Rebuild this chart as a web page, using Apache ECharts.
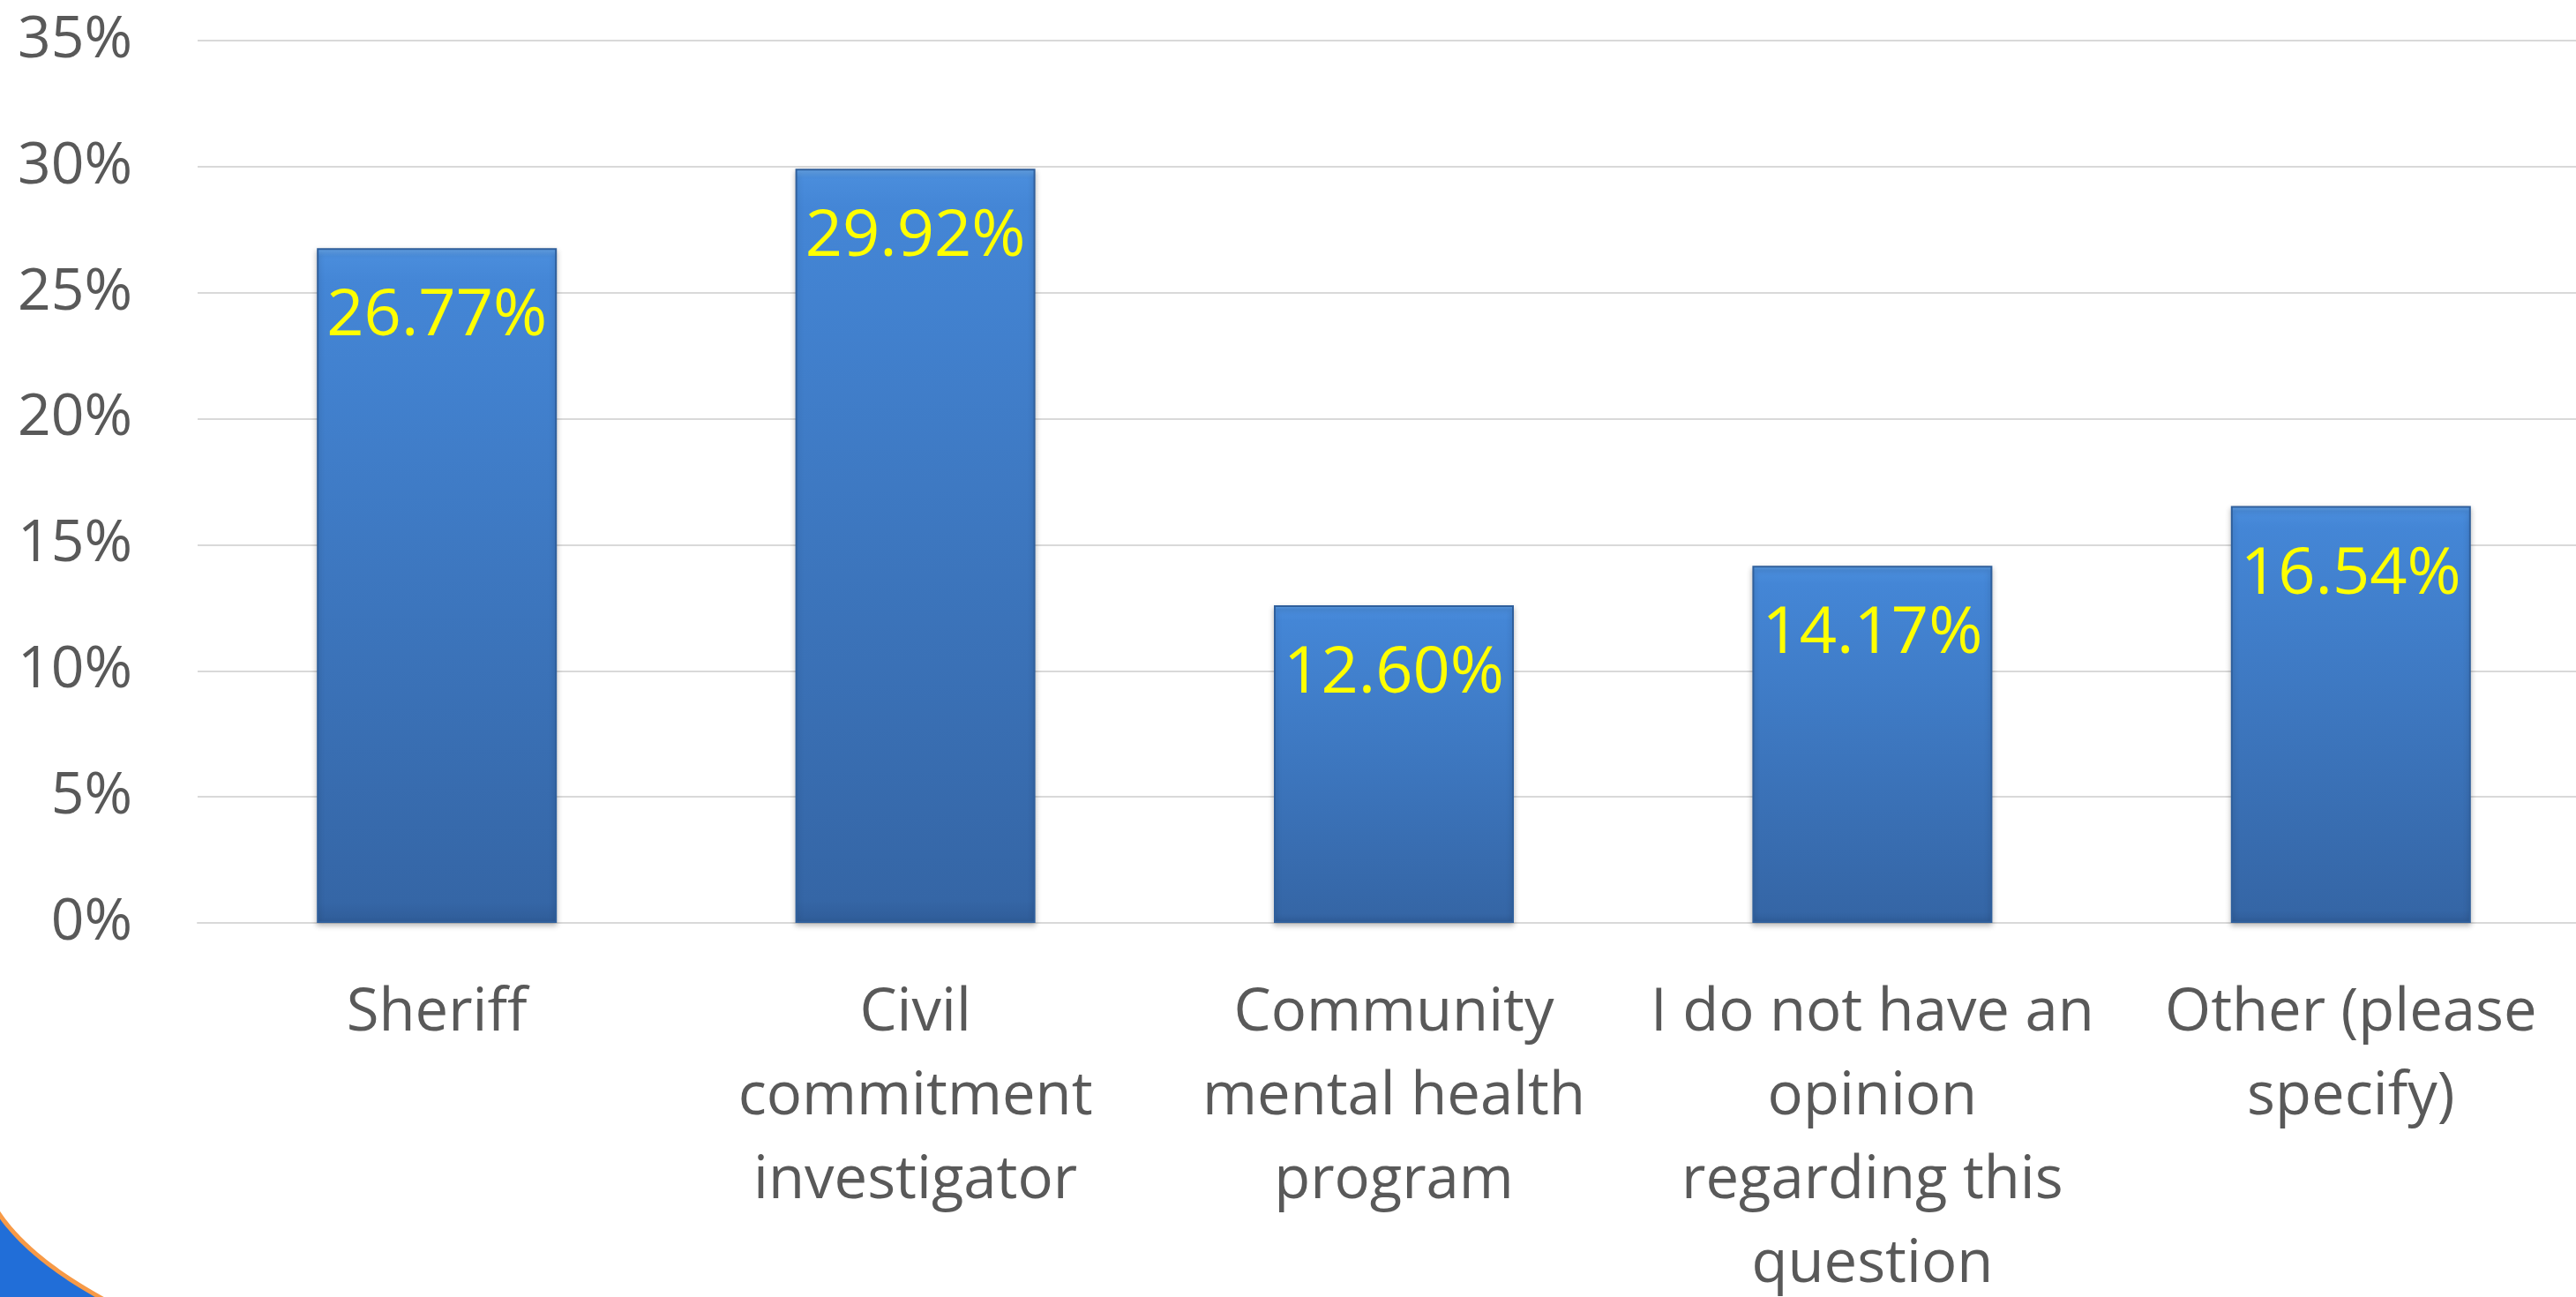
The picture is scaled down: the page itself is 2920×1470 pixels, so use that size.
<!DOCTYPE html>
<html>
<head>
<meta charset="utf-8">
<style>
  html, body { margin: 0; padding: 0; background: #ffffff; overflow: hidden; }
  #chart { width: 2920px; height: 1470px; }
</style>
<script src="https://cdn.jsdelivr.net/npm/echarts@6/dist/echarts.min.js"></script>
</head>
<body>
<div id="chart"></div>
<script>
// ---- data ----
const categories = [
  'Sheriff',
  'Civil\ncommitment\ninvestigator',
  'Community\nmental health\nprogram',
  'I do not have an\nopinion\nregarding this\nquestion',
  'Other (please\nspecify)'
];
const percentValues = [26.77, 29.92, 12.60, 14.17, 16.54];
const yTickMin = 0;
const yTickMax = 35;
const yTickStep = 5;

// ---- decorative corner swoosh (not data) ----
function cornerCurve() {
  const p0 = [-6, 1368], c = [30, 1428], p1 = [135, 1482];
  const pts = [];
  for (let i = 0; i <= 40; i++) {
    const t = i / 40, u = 1 - t;
    pts.push([u * u * p0[0] + 2 * u * t * c[0] + t * t * p1[0],
              u * u * p0[1] + 2 * u * t * c[1] + t * t * p1[1]]);
  }
  return pts;
}
const curvePts = cornerCurve();

// ---- chart ----
const FONT = '"Open Sans", "Noto Sans", sans-serif';
const chart = echarts.init(document.getElementById('chart'), null, { renderer: 'canvas' });

chart.setOption({
  backgroundColor: '#ffffff',
  animation: false,
  grid: { left: 224, right: -16, top: 46, bottom: 424, containLabel: false, outerBoundsMode: 'none' },
  xAxis: {
    type: 'category',
    data: categories,
    axisLine: { show: true, lineStyle: { color: '#d9d9d9', width: 2 } },
    axisTick: { show: false },
    axisLabel: {
      interval: 0,
      color: '#595959',
      fontFamily: FONT,
      fontSize: 67,
      lineHeight: 95,
      margin: 55
    }
  },
  yAxis: {
    type: 'value',
    min: yTickMin,
    max: yTickMax,
    interval: yTickStep,
    axisLine: { show: false },
    axisTick: { show: false },
    splitLine: { lineStyle: { color: '#d9d9d9', width: 2 } },
    axisLabel: {
      formatter: '{value}%',
      color: '#595959',
      fontFamily: FONT,
      fontSize: 66,
      margin: 74
    }
  },
  series: [{
    type: 'bar',
    data: percentValues,
    barWidth: 272,
    itemStyle: {
      color: {
        type: 'linear', x: 0, y: 0, x2: 0, y2: 1,
        colorStops: [
          { offset: 0, color: '#6aaaee' },
          { offset: 0.012, color: '#4a8ddc' },
          { offset: 0.05, color: '#4486d6' },
          { offset: 0.97, color: '#3566a6' },
          { offset: 1, color: '#2f5c98' }
        ]
      },
      borderColor: '#2f5f9c',
      borderWidth: 2,
      shadowColor: 'rgba(0,0,0,0.25)',
      shadowBlur: 6,
      shadowOffsetY: 3
    },
    label: {
      show: true,
      position: 'insideTop',
      distance: 41,
      color: '#ffff00',
      fontFamily: FONT,
      fontSize: 74,
      formatter: function (p) { return p.value.toFixed(2) + '%'; }
    }
  }],
  graphic: [{
    type: 'polygon',
    silent: true,
    z: 10,
    shape: { points: curvePts.concat([[-10, 1482]]) },
    style: { fill: '#216ed8' }
  }, {
    type: 'polyline',
    silent: true,
    z: 11,
    shape: { points: curvePts },
    style: { stroke: '#f79a47', lineWidth: 5, fill: null }
  }]
});
</script>
</body>
</html>
